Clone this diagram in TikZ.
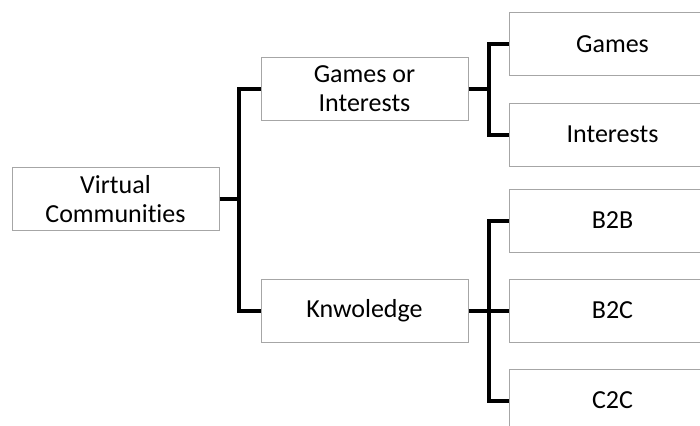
\documentclass[tikz,border=0pt]{standalone}
\usepackage{fontspec}
\setmainfont{Carlito}[Ligatures=NoCommon]
\usetikzlibrary{positioning}

\begin{document}
\begin{tikzpicture}[x=1pt, y=1pt, every node/.style={draw=gray!70, line width=1pt, rectangle, minimum width=207pt, minimum height=63pt, align=center, font=\fontsize{26}{29}\selectfont}, node distance=26pt]
	\clip (0,0) rectangle (700,-425);
	\node (VC) at (115.5,-199) {Virtual\\Communities};
	\node[right=41pt of VC, yshift=110pt] (GI) {Games or\\Interests};
	\node[right=41pt of VC, yshift=-111.5pt] (K) {Knwoledge};
	\node[right=40pt of GI, yshift=44.5pt] (G) {Games};
	\node[below=of G] (I) {Interests};
	\node[right=40pt of K] (B2C) {B2C};
	\node[above=of B2C] (B2B) {B2B};
	\node[below=of B2C] (C2C) {C2C};
	\draw[line width=4pt] (VC.east) -- ++(19,0) coordinate (VCj) |- (GI.west);
	\draw[line width=4pt] (VCj) |- (K.west);
	\draw[line width=4pt] (GI.east) -- ++(20,0) coordinate (GIj) |- (G.west);
	\draw[line width=4pt] (GIj) |- (I.west);
	\draw[line width=4pt] (K.east) -- ++(20,0) coordinate (Kj) |- (B2B.west);
	\draw[line width=4pt] (Kj) -- (B2C.west);
	\draw[line width=4pt] (Kj) |- (C2C.west);
\end{tikzpicture}
\end{document}
